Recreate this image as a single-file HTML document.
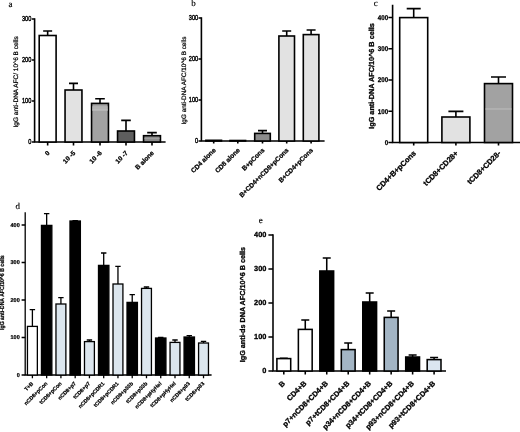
<!DOCTYPE html>
<html><head><meta charset="utf-8"><title>Figure</title>
<style>
html,body{margin:0;padding:0;background:#fff;}
body{width:520px;height:432px;overflow:hidden;}
svg{display:block;}
text{font-family:"Liberation Sans",sans-serif;fill:#000;text-rendering:geometricPrecision;}
text.b{font-weight:bold;stroke:#000;stroke-width:0.04em;}
text.m{font-weight:normal;stroke:#000;stroke-width:0.4px;}
text.n{font-weight:normal;stroke:#000;stroke-width:0.22px;}
text.s{font-family:"Liberation Serif",serif;font-weight:normal;stroke:#000;stroke-width:0.15px;}
</style></head>
<body>
<svg width="520" height="432" viewBox="0 0 520 432">
<defs><filter id="bl" x="-5%" y="-5%" width="110%" height="110%" color-interpolation-filters="sRGB"><feGaussianBlur stdDeviation="0.4"/></filter></defs>
<rect x="-20" y="-20" width="580" height="480" fill="#fff"/>
<g filter="url(#bl)">
<rect x="-20" y="-20" width="580" height="480" fill="#fff"/>
<text x="8.6" y="6.7" font-size="9" class="s">a</text>
<path d="M34.60 18.20V142.00M33.80 142.00H165.60" stroke="#000" stroke-width="1.6" fill="none"/>
<path d="M31.80 142.00H34.60M31.80 101.00H34.60M31.80 60.00H34.60M31.80 19.00H34.60M47.65 142.00V145.60M73.50 142.00V145.60M100.00 142.00V145.60M126.00 142.00V145.60M152.00 142.00V145.60" stroke="#000" stroke-width="1.6" fill="none"/>
<text transform="translate(31.30 144.29) scale(0.78 1)" font-size="7.2" text-anchor="end" class="m">0</text>
<text transform="translate(31.30 103.29) scale(0.78 1)" font-size="7.2" text-anchor="end" class="m">100</text>
<text transform="translate(31.30 62.29) scale(0.78 1)" font-size="7.2" text-anchor="end" class="m">200</text>
<text transform="translate(31.30 21.29) scale(0.78 1)" font-size="7.2" text-anchor="end" class="m">300</text>
<path d="M47.65 35.50V31.00M43.15 31.00H52.15" stroke="#000" stroke-width="1.6" fill="none"/>
<rect x="39.20" y="35.50" width="16.90" height="106.50" fill="#fff" stroke="#000" stroke-width="1.6"/>
<path d="M73.50 90.00V83.40M69.00 83.40H78.00" stroke="#000" stroke-width="1.6" fill="none"/>
<rect x="65.05" y="90.00" width="16.90" height="52.00" fill="#e2e2e2" stroke="#000" stroke-width="1.6"/>
<path d="M100.00 103.40V98.80M95.20 98.80H104.80" stroke="#000" stroke-width="1.6" fill="none"/>
<rect x="91.55" y="103.40" width="16.90" height="38.60" fill="#a2a2a2" stroke="#000" stroke-width="1.6"/>
<rect x="92.35" y="106.20" width="15.30" height="4.40" fill="#b2b2b2"/>
<path d="M92.35 110.00H107.65" stroke="#c4c4c4" stroke-width="0.8"/>
<path d="M126.00 131.00V120.40M121.20 120.40H130.80" stroke="#000" stroke-width="1.6" fill="none"/>
<rect x="117.55" y="131.00" width="16.90" height="11.00" fill="#5e5e5e" stroke="#000" stroke-width="1.6"/>
<path d="M152.00 135.70V132.60M147.20 132.60H156.80" stroke="#000" stroke-width="1.6" fill="none"/>
<rect x="143.55" y="135.70" width="16.90" height="6.30" fill="#8a8a8a" stroke="#000" stroke-width="1.6"/>
<path d="M144.35 138.40H159.65" stroke="#a4a4a4" stroke-width="0.8"/>
<text transform="translate(50.05 153.40) rotate(-45)" font-size="6.5" text-anchor="end" class="b">0</text>
<text transform="translate(75.90 153.40) rotate(-45)" font-size="6.5" text-anchor="end" class="b">10 -5</text>
<text transform="translate(102.40 153.40) rotate(-45)" font-size="6.5" text-anchor="end" class="b">10 -6</text>
<text transform="translate(128.40 153.40) rotate(-45)" font-size="6.5" text-anchor="end" class="b">10 -7</text>
<text transform="translate(154.40 153.40) rotate(-45)" font-size="6.5" text-anchor="end" class="b">B alone</text>
<text transform="translate(18.00 81.90) rotate(-90) scale(1 1)" font-size="6.5" text-anchor="middle" class="n">IgG anti-DNA AFC/ 10^6 B cells</text>
<text x="191.3" y="6.3" font-size="9" class="s">b</text>
<path d="M201.40 17.20V141.00M200.60 141.00H324.60" stroke="#000" stroke-width="1.6" fill="none"/>
<path d="M198.50 141.00H201.40M198.50 100.00H201.40M198.50 59.00H201.40M198.50 18.00H201.40M213.70 141.00V143.60M237.80 141.00V143.60M262.50 141.00V143.60M286.70 141.00V143.60M311.10 141.00V143.60" stroke="#000" stroke-width="1.6" fill="none"/>
<text transform="translate(198.20 143.29) scale(0.78 1)" font-size="7.2" text-anchor="end" class="m">0</text>
<text transform="translate(198.20 102.29) scale(0.78 1)" font-size="7.2" text-anchor="end" class="m">100</text>
<text transform="translate(198.20 61.29) scale(0.78 1)" font-size="7.2" text-anchor="end" class="m">200</text>
<text transform="translate(198.20 20.29) scale(0.78 1)" font-size="7.2" text-anchor="end" class="m">300</text>
<rect x="205.90" y="140.30" width="15.60" height="0.70" fill="#000" stroke="#000" stroke-width="1.6"/>
<rect x="230.00" y="140.50" width="15.60" height="0.50" fill="#000" stroke="#000" stroke-width="1.6"/>
<path d="M262.50 133.40V130.60M258.00 130.60H267.00" stroke="#000" stroke-width="1.6" fill="none"/>
<rect x="254.70" y="133.40" width="15.60" height="7.60" fill="#8c8c8c" stroke="#000" stroke-width="1.6"/>
<path d="M286.70 36.00V31.00M282.20 31.00H291.20" stroke="#000" stroke-width="1.6" fill="none"/>
<rect x="278.90" y="36.00" width="15.60" height="105.00" fill="#e2e2e2" stroke="#000" stroke-width="1.6"/>
<path d="M311.10 34.60V30.00M306.60 30.00H315.60" stroke="#000" stroke-width="1.6" fill="none"/>
<rect x="303.30" y="34.60" width="15.60" height="106.40" fill="#e2e2e2" stroke="#000" stroke-width="1.6"/>
<text transform="translate(216.20 150.60) rotate(-45)" font-size="6.55" text-anchor="end" class="b">CD4 alone</text>
<text transform="translate(240.30 150.60) rotate(-45)" font-size="6.55" text-anchor="end" class="b">CD8 alone</text>
<text transform="translate(265.00 150.60) rotate(-45)" font-size="6.55" text-anchor="end" class="b">B+pCons</text>
<text transform="translate(289.20 150.60) rotate(-45)" font-size="6.55" text-anchor="end" class="b">B+CD4+nCD8+pCons</text>
<text transform="translate(313.60 150.60) rotate(-45)" font-size="6.55" text-anchor="end" class="b">B+CD4+pCons</text>
<text transform="translate(185.80 80.50) rotate(-90) scale(1 1)" font-size="6.4" text-anchor="middle" class="n">IgG anti-DNA AFC/10^6 B cells</text>
<text x="373.8" y="6.3" font-size="9" class="s">c</text>
<path d="M392.60 4.70V142.50M391.80 142.50H530.00" stroke="#000" stroke-width="1.6" fill="none"/>
<path d="M388.40 142.50H392.60M388.40 111.25H392.60M388.40 80.00H392.60M388.40 48.75H392.60M388.40 17.50H392.60M413.70 142.50V145.50M455.90 142.50V145.50M498.50 142.50V145.50" stroke="#000" stroke-width="1.6" fill="none"/>
<text transform="translate(388.20 144.98) scale(0.9 1)" font-size="6.9" text-anchor="end" class="b">0</text>
<text transform="translate(388.20 113.73) scale(0.9 1)" font-size="6.9" text-anchor="end" class="b">100</text>
<text transform="translate(388.20 82.48) scale(0.9 1)" font-size="6.9" text-anchor="end" class="b">200</text>
<text transform="translate(388.20 51.23) scale(0.9 1)" font-size="6.9" text-anchor="end" class="b">300</text>
<text transform="translate(388.20 19.98) scale(0.9 1)" font-size="6.9" text-anchor="end" class="b">400</text>
<path d="M413.70 17.60V8.60M406.70 8.60H420.70" stroke="#000" stroke-width="1.6" fill="none"/>
<rect x="399.70" y="17.60" width="28.00" height="124.90" fill="#fff" stroke="#000" stroke-width="1.6"/>
<path d="M455.90 117.00V111.40M448.40 111.40H463.40" stroke="#000" stroke-width="1.6" fill="none"/>
<rect x="441.90" y="117.00" width="28.00" height="25.50" fill="#e2e2e2" stroke="#000" stroke-width="1.6"/>
<path d="M498.50 83.60V77.00M491.00 77.00H506.00" stroke="#000" stroke-width="1.6" fill="none"/>
<rect x="484.50" y="83.60" width="28.00" height="58.90" fill="#a2a2a2" stroke="#000" stroke-width="1.6"/>
<path d="M485.30 109.00H511.70" stroke="#c4c4c4" stroke-width="0.8"/>
<text transform="translate(416.50 153.80) rotate(-45)" font-size="7.55" text-anchor="end" class="b">CD4+B+pCons</text>
<text transform="translate(458.70 153.80) rotate(-45)" font-size="7.55" text-anchor="end" class="b">tCD8+CD28+</text>
<text transform="translate(501.30 153.80) rotate(-45)" font-size="7.55" text-anchor="end" class="b">tCD8+CD28-</text>
<text transform="translate(373.70 76.00) rotate(-90) scale(1 1)" font-size="7.29" text-anchor="middle" class="b">IgG anti-DNA AFC/10^6 B cells</text>
<text x="15.6" y="209.1" font-size="9" class="s">d</text>
<path d="M25.20 212.35V375.00M24.55 375.00H211.60" stroke="#000" stroke-width="1.3" fill="none"/>
<path d="M21.60 375.00H25.20M21.60 337.50H25.20M21.60 300.00H25.20M21.60 262.50H25.20M21.60 225.00H25.20M32.40 375.00V378.20M46.66 375.00V378.20M60.92 375.00V378.20M75.18 375.00V378.20M89.44 375.00V378.20M103.70 375.00V378.20M117.96 375.00V378.20M132.22 375.00V378.20M146.48 375.00V378.20M160.74 375.00V378.20M175.00 375.00V378.20M189.26 375.00V378.20M203.52 375.00V378.20" stroke="#000" stroke-width="1.3" fill="none"/>
<text transform="translate(19.70 376.98) scale(1 1)" font-size="5.5" text-anchor="end" class="b">0</text>
<text transform="translate(19.70 339.48) scale(1 1)" font-size="5.5" text-anchor="end" class="b">100</text>
<text transform="translate(19.70 301.98) scale(1 1)" font-size="5.5" text-anchor="end" class="b">200</text>
<text transform="translate(19.70 264.48) scale(1 1)" font-size="5.5" text-anchor="end" class="b">300</text>
<text transform="translate(19.70 226.98) scale(1 1)" font-size="5.5" text-anchor="end" class="b">400</text>
<path d="M32.40 326.40V309.70M29.70 309.70H35.10" stroke="#000" stroke-width="1.3" fill="none"/>
<rect x="27.45" y="326.40" width="9.90" height="48.60" fill="#fff" stroke="#000" stroke-width="1.3"/>
<path d="M46.66 225.40V213.60M43.96 213.60H49.36" stroke="#000" stroke-width="1.3" fill="none"/>
<rect x="41.46" y="225.40" width="10.40" height="149.60" fill="#000" stroke="#000" stroke-width="1.3"/>
<path d="M60.92 304.00V297.60M58.22 297.60H63.62" stroke="#000" stroke-width="1.3" fill="none"/>
<rect x="55.97" y="304.00" width="9.90" height="71.00" fill="#dce6ee" stroke="#000" stroke-width="1.3"/>
<path d="M75.18 221.00V220.60M72.48 220.60H77.88" stroke="#000" stroke-width="1.3" fill="none"/>
<rect x="69.98" y="221.00" width="10.40" height="154.00" fill="#000" stroke="#000" stroke-width="1.3"/>
<path d="M89.44 341.60V340.00M86.74 340.00H92.14" stroke="#000" stroke-width="1.3" fill="none"/>
<rect x="84.49" y="341.60" width="9.90" height="33.40" fill="#dce6ee" stroke="#000" stroke-width="1.3"/>
<path d="M103.70 265.40V253.00M101.00 253.00H106.40" stroke="#000" stroke-width="1.3" fill="none"/>
<rect x="98.50" y="265.40" width="10.40" height="109.60" fill="#000" stroke="#000" stroke-width="1.3"/>
<path d="M117.96 284.00V266.40M115.26 266.40H120.66" stroke="#000" stroke-width="1.3" fill="none"/>
<rect x="113.01" y="284.00" width="9.90" height="91.00" fill="#dce6ee" stroke="#000" stroke-width="1.3"/>
<path d="M132.22 302.40V294.60M129.52 294.60H134.92" stroke="#000" stroke-width="1.3" fill="none"/>
<rect x="127.02" y="302.40" width="10.40" height="72.60" fill="#000" stroke="#000" stroke-width="1.3"/>
<path d="M146.48 288.40V287.00M143.78 287.00H149.18" stroke="#000" stroke-width="1.3" fill="none"/>
<rect x="141.53" y="288.40" width="9.90" height="86.60" fill="#dce6ee" stroke="#000" stroke-width="1.3"/>
<path d="M160.74 338.00V337.40M158.04 337.40H163.44" stroke="#000" stroke-width="1.3" fill="none"/>
<rect x="155.54" y="338.00" width="10.40" height="37.00" fill="#000" stroke="#000" stroke-width="1.3"/>
<path d="M175.00 342.40V340.00M172.30 340.00H177.70" stroke="#000" stroke-width="1.3" fill="none"/>
<rect x="170.05" y="342.40" width="9.90" height="32.60" fill="#dce6ee" stroke="#000" stroke-width="1.3"/>
<path d="M189.26 337.00V335.60M186.56 335.60H191.96" stroke="#000" stroke-width="1.3" fill="none"/>
<rect x="184.06" y="337.00" width="10.40" height="38.00" fill="#000" stroke="#000" stroke-width="1.3"/>
<path d="M203.52 343.00V341.40M200.82 341.40H206.22" stroke="#000" stroke-width="1.3" fill="none"/>
<rect x="198.57" y="343.00" width="9.90" height="32.00" fill="#dce6ee" stroke="#000" stroke-width="1.3"/>
<text transform="translate(33.60 384.00) rotate(-45)" font-size="5.3" text-anchor="end" class="b">T+B</text>
<text transform="translate(47.86 384.00) rotate(-45)" font-size="5.3" text-anchor="end" class="b">nCD8+pCon</text>
<text transform="translate(62.12 384.00) rotate(-45)" font-size="5.3" text-anchor="end" class="b">tCD8+pCon</text>
<text transform="translate(76.38 384.00) rotate(-45)" font-size="5.3" text-anchor="end" class="b">nCD8+p7</text>
<text transform="translate(90.64 384.00) rotate(-45)" font-size="5.3" text-anchor="end" class="b">tCD8+p7</text>
<text transform="translate(104.90 384.00) rotate(-45)" font-size="5.3" text-anchor="end" class="b">nCD8+pCDR1</text>
<text transform="translate(119.16 384.00) rotate(-45)" font-size="5.3" text-anchor="end" class="b">tCD8+pCDR1</text>
<text transform="translate(133.42 384.00) rotate(-45)" font-size="5.3" text-anchor="end" class="b">nCD8+p33b</text>
<text transform="translate(147.68 384.00) rotate(-45)" font-size="5.3" text-anchor="end" class="b">tCD8+p33b</text>
<text transform="translate(161.94 384.00) rotate(-45)" font-size="5.3" text-anchor="end" class="b">nCD8+pHyHel</text>
<text transform="translate(176.20 384.00) rotate(-45)" font-size="5.3" text-anchor="end" class="b">tCD8+pHyHel</text>
<text transform="translate(190.46 384.00) rotate(-45)" font-size="5.3" text-anchor="end" class="b">nCD8+p93</text>
<text transform="translate(204.72 384.00) rotate(-45)" font-size="5.3" text-anchor="end" class="b">tCD8+p93</text>
<text transform="translate(4.10 292.60) rotate(-90) scale(0.857 1)" font-size="6.0" text-anchor="middle" class="b">IgG anti-DNA AFC/10^6 B cells</text>
<text x="258.8" y="222.6" font-size="9" class="s">e</text>
<path d="M273.00 234.22V371.00M272.23 371.00H446.00" stroke="#000" stroke-width="1.55" fill="none"/>
<path d="M268.40 371.00H273.00M268.40 337.00H273.00M268.40 303.00H273.00M268.40 269.00H273.00M268.40 235.00H273.00M283.80 371.00V374.50M305.27 371.00V374.50M326.74 371.00V374.50M348.21 371.00V374.50M369.68 371.00V374.50M391.15 371.00V374.50M412.62 371.00V374.50M434.09 371.00V374.50" stroke="#000" stroke-width="1.55" fill="none"/>
<text transform="translate(266.40 373.26) scale(1 1)" font-size="7.4" text-anchor="end" class="b">0</text>
<text transform="translate(266.40 339.26) scale(1 1)" font-size="7.4" text-anchor="end" class="b">100</text>
<text transform="translate(266.40 305.26) scale(1 1)" font-size="7.4" text-anchor="end" class="b">200</text>
<text transform="translate(266.40 271.26) scale(1 1)" font-size="7.4" text-anchor="end" class="b">300</text>
<text transform="translate(266.40 237.26) scale(1 1)" font-size="7.4" text-anchor="end" class="b">400</text>
<path d="M283.80 358.60V358.20M279.80 358.20H287.80" stroke="#000" stroke-width="1.55" fill="none"/>
<rect x="276.90" y="358.60" width="13.80" height="12.40" fill="#fff" stroke="#000" stroke-width="1.55"/>
<path d="M305.27 329.40V320.00M301.27 320.00H309.27" stroke="#000" stroke-width="1.55" fill="none"/>
<rect x="298.37" y="329.40" width="13.80" height="41.60" fill="#fff" stroke="#000" stroke-width="1.55"/>
<path d="M326.74 271.00V258.00M322.74 258.00H330.74" stroke="#000" stroke-width="1.55" fill="none"/>
<rect x="319.84" y="271.00" width="13.80" height="100.00" fill="#000" stroke="#000" stroke-width="1.55"/>
<path d="M348.21 349.60V343.00M344.21 343.00H352.21" stroke="#000" stroke-width="1.55" fill="none"/>
<rect x="341.31" y="349.60" width="13.80" height="21.40" fill="#a3b5c4" stroke="#000" stroke-width="1.55"/>
<path d="M369.68 302.00V293.00M365.68 293.00H373.68" stroke="#000" stroke-width="1.55" fill="none"/>
<rect x="362.78" y="302.00" width="13.80" height="69.00" fill="#000" stroke="#000" stroke-width="1.55"/>
<path d="M391.15 317.40V311.00M387.15 311.00H395.15" stroke="#000" stroke-width="1.55" fill="none"/>
<rect x="384.25" y="317.40" width="13.80" height="53.60" fill="#a3b5c4" stroke="#000" stroke-width="1.55"/>
<path d="M412.62 357.00V355.00M408.62 355.00H416.62" stroke="#000" stroke-width="1.55" fill="none"/>
<rect x="405.72" y="357.00" width="13.80" height="14.00" fill="#000" stroke="#000" stroke-width="1.55"/>
<path d="M434.09 359.60V357.40M430.09 357.40H438.09" stroke="#000" stroke-width="1.55" fill="none"/>
<rect x="427.19" y="359.60" width="13.80" height="11.40" fill="#dbe6f0" stroke="#000" stroke-width="1.55"/>
<text transform="translate(285.60 384.00) rotate(-45)" font-size="7.4" text-anchor="end" class="b">B</text>
<text transform="translate(307.07 384.00) rotate(-45)" font-size="7.4" text-anchor="end" class="b">CD4+B</text>
<text transform="translate(328.54 384.00) rotate(-45)" font-size="7.4" text-anchor="end" class="b">p7+nCD8+CD4+B</text>
<text transform="translate(350.01 384.00) rotate(-45)" font-size="7.4" text-anchor="end" class="b">p7+tCD8+CD4+B</text>
<text transform="translate(371.48 384.00) rotate(-45)" font-size="7.4" text-anchor="end" class="b">p34+nCD8+CD4+B</text>
<text transform="translate(392.95 384.00) rotate(-45)" font-size="7.4" text-anchor="end" class="b">p34+tCD8+CD4+B</text>
<text transform="translate(414.42 384.00) rotate(-45)" font-size="7.4" text-anchor="end" class="b">p93+nCD8+CD4+B</text>
<text transform="translate(435.89 384.00) rotate(-45)" font-size="7.4" text-anchor="end" class="b">p93+tCD8+CD4+B</text>
<text transform="translate(244.80 304.60) rotate(-90) scale(1 1)" font-size="7.22" text-anchor="middle" class="b">IgG anti-ds DNA AFC/10^6 B cells</text>
</g>
</svg>
</body></html>
